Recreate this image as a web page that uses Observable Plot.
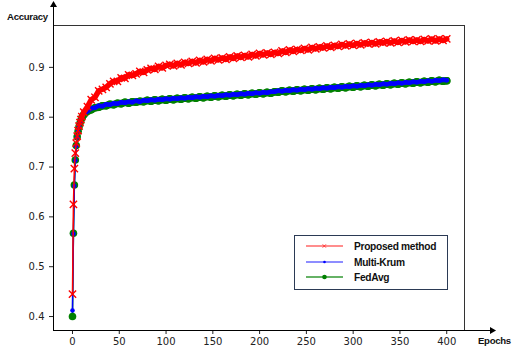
<!DOCTYPE html>
<html>
<head>
<meta charset="utf-8">
<script src="https://cdn.jsdelivr.net/npm/d3@7"></script>
<script src="https://cdn.jsdelivr.net/npm/@observablehq/plot@0.6"></script>
<style>
  html, body { margin: 0; padding: 0; background: #fff; }
  #chart svg { display: block; }
</style>
</head>
<body>
<div id="chart"></div>
<script>
const epochs = [0,1,2,3,4,5,6,7,8,9,10,
  12,16,20,24,28,32,36,40,44,48,52,56,60,64,68,72,76,80,84,88,92,96,100,104,108,112,116,120,124,128,
  132,136,140,144,148,152,156,160,164,168,172,176,180,184,188,192,196,200,204,208,212,216,220,224,228,232,
  236,240,244,248,252,256,260,264,268,272,276,280,284,288,292,296,300,304,308,312,316,320,324,328,332,336,
  340,344,348,352,356,360,364,368,372,376,380,384,388,392,396,400];

const proposed = [0.445,0.625,0.697,0.728,0.748,0.762,0.773,0.782,0.789,0.795,0.801,
  0.810,0.821,0.835,0.840,0.853,0.856,0.860,0.867,0.872,0.872,
  0.879,0.878,0.885,0.884,0.887,0.892,0.890,0.895,0.898,0.896,
  0.902,0.899,0.904,0.906,0.903,0.908,0.905,0.910,0.908,0.912,
  0.909,0.914,0.911,0.916,0.913,0.918,0.915,0.919,0.916,0.921,
  0.918,0.923,0.920,0.924,0.921,0.926,0.923,0.928,0.925,0.929,
  0.926,0.930,0.928,0.933,0.930,0.935,0.932,0.936,0.934,0.938,
  0.935,0.940,0.937,0.941,0.939,0.943,0.940,0.944,0.942,0.946,
  0.943,0.947,0.944,0.948,0.945,0.949,0.947,0.950,0.947,0.951,
  0.949,0.952,0.949,0.953,0.950,0.954,0.951,0.955,0.952,0.955,
  0.952,0.956,0.953,0.957,0.953,0.957,0.954,0.957];

const multiKrum = [0.412,0.566,0.662,0.713,0.742,0.760,0.773,0.782,0.790,0.796,0.801,
  0.808,0.812,0.818,0.819,0.823,0.822,0.826,0.825,0.828,0.827,
  0.830,0.829,0.831,0.830,0.833,0.831,0.834,0.833,0.835,0.834,
  0.836,0.835,0.837,0.836,0.838,0.837,0.839,0.838,0.840,0.839,
  0.841,0.840,0.842,0.841,0.843,0.842,0.844,0.843,0.845,0.844,
  0.846,0.845,0.847,0.846,0.848,0.847,0.849,0.848,0.850,0.849,
  0.851,0.851,0.853,0.852,0.854,0.853,0.855,0.854,0.856,0.855,
  0.857,0.856,0.858,0.857,0.859,0.858,0.860,0.859,0.861,0.860,
  0.862,0.861,0.863,0.862,0.864,0.863,0.865,0.864,0.866,0.865,
  0.867,0.866,0.868,0.867,0.869,0.868,0.870,0.869,0.871,0.870,
  0.872,0.871,0.873,0.872,0.874,0.873,0.875,0.874];

const fedAvg = [0.400,0.567,0.664,0.714,0.743,0.761,0.772,0.781,0.788,0.794,0.799,
  0.805,0.812,0.815,0.819,0.820,0.823,0.823,0.826,0.825,0.828,
  0.827,0.830,0.828,0.831,0.830,0.832,0.831,0.834,0.832,0.835,
  0.833,0.836,0.834,0.837,0.835,0.838,0.836,0.839,0.837,0.840,
  0.838,0.841,0.839,0.842,0.840,0.843,0.841,0.844,0.842,0.845,
  0.843,0.846,0.844,0.847,0.845,0.848,0.846,0.849,0.847,0.850,
  0.848,0.851,0.850,0.853,0.851,0.854,0.852,0.855,0.853,0.856,
  0.854,0.857,0.855,0.858,0.856,0.859,0.857,0.860,0.858,0.861,
  0.859,0.862,0.860,0.863,0.861,0.864,0.862,0.865,0.863,0.866,
  0.864,0.867,0.865,0.868,0.866,0.869,0.867,0.870,0.868,0.871,
  0.869,0.872,0.870,0.873,0.871,0.874,0.872,0.873];

const xTicks = [0,50,100,150,200,250,300,350,400];
const yTicks = [0.4,0.5,0.6,0.7,0.8,0.9];
const seriesNames = ["Proposed method","Multi-Krum","FedAvg"];

const toRows = vals => epochs.map((e, i) => ({x: e, y: vals[i]}));
const redRows = toRows(proposed);
const blueRows = toRows(multiKrum);
const greenRows = toRows(fedAvg);
const late = rows => rows.filter(d => d.x >= 10);

const xMin = -20.3, xMax = 419, xArrow = 450;
const yMin = 0.372, yMax = 0.984, yArrow = 1.028;

const chart = Plot.plot({
  width: 516,
  height: 352,
  marginLeft: 53,
  marginRight: 52,
  marginTop: 25,
  marginBottom: 22,
  style: {fontFamily: "DejaVu Sans", fontSize: "10px", color: "#222", background: "#fff"},
  x: {domain: [xMin, xMax]},
  y: {domain: [yMin, yMax]},
  marks: [
    Plot.axisY({ticks: yTicks, tickSize: 4, tickPadding: 5, tickFormat: d => d.toFixed(1), label: null}),
    Plot.axisX({ticks: xTicks, tickSize: 4, tickPadding: 3, label: null}),
    // frame (top + right spines)
    Plot.ruleY([yMax], {x1: xMin, x2: xMax, stroke: "#333", strokeWidth: 1}),
    Plot.ruleX([xMax], {y1: yMin, y2: yMax, stroke: "#333", strokeWidth: 1}),
    // axis lines with arrows
    Plot.ruleX([xMin], {y1: yMin, y2: yArrow, stroke: "#000", strokeWidth: 1}),
    Plot.ruleY([yMin], {x1: xMin, x2: xArrow, stroke: "#000", strokeWidth: 1}),
    Plot.dot([[xMin, yArrow]], {x: d => d[0], y: d => d[1], symbol: "triangle", r: 2.6, fill: "#000", dy: 1.5}),
    Plot.dot([[xArrow, yMin]], {x: d => d[0], y: d => d[1], symbol: "triangle", r: 2.6, fill: "#000", rotate: 90, dx: -1.5}),
    // FedAvg
    Plot.line(greenRows, {x: "x", y: "y", stroke: "#008000", strokeWidth: 1.5}),
    Plot.line(late(greenRows), {x: "x", y: "y", stroke: "#008000", strokeWidth: 7.5, strokeLinecap: "round"}),
    Plot.dot(greenRows, {x: "x", y: "y", r: 3.8, fill: "#008000"}),
    // Multi-Krum
    Plot.line(blueRows, {x: "x", y: "y", stroke: "#0000ff", strokeWidth: 1.5}),
    Plot.line(late(blueRows), {x: "x", y: "y", stroke: "#0000ff", strokeWidth: 4.5, strokeLinecap: "round"}),
    Plot.dot(blueRows, {x: "x", y: "y", r: 2.3, fill: "#0000ff"}),
    // Proposed
    Plot.line(redRows, {x: "x", y: "y", stroke: "#ff0000", strokeWidth: 1.5}),
    Plot.line(late(redRows), {x: "x", y: "y", stroke: "#ff0000", strokeWidth: 5.5}),
    Plot.dot(redRows, {x: "x", y: "y", symbol: "times", r: 3.4, stroke: "#ff0000", strokeWidth: 1.4})
  ]
});

document.getElementById("chart").appendChild(chart);

const svg = d3.select(chart);
const labelFont = "'Liberation Sans', Arial, sans-serif";
svg.append("text").attr("x", 7).attr("y", 20).attr("text-anchor", "start").attr("font-family", labelFont)
  .attr("font-size", 9.6).attr("font-weight", "bold").attr("letter-spacing", -0.3).attr("fill", "#111").text("Accuracy");
svg.append("text").attr("x", 478).attr("y", 344).attr("text-anchor", "start").attr("font-family", labelFont)
  .attr("font-size", 9.6).attr("font-weight", "bold").attr("letter-spacing", -0.3).attr("fill", "#111").text("Epochs");

// legend
const lg = svg.append("g");
lg.append("rect").attr("x", 294.5).attr("y", 235.5).attr("width", 153).attr("height", 54)
  .attr("fill", "#fff").attr("stroke", "#2b3a55").attr("stroke-width", 1);
const legendColors = ["#ff0000", "#0000ff", "#008000"];
const legendY = [246, 262, 277];
seriesNames.forEach((name, i) => {
  const y = legendY[i];
  lg.append("line").attr("x1", 306).attr("x2", 343).attr("y1", y).attr("y2", y)
    .attr("stroke", legendColors[i]).attr("stroke-opacity", i === 2 ? 0.8 : 0.6).attr("stroke-width", 1.5);
  if (i === 0) {
    lg.append("path").attr("d", `M${322.5},${y-1.8}L${326.1},${y+1.8}M${322.5},${y+1.8}L${326.1},${y-1.8}`)
      .attr("stroke", "#ff0000").attr("stroke-opacity", 0.6).attr("stroke-width", 1);
  } else {
    lg.append("circle").attr("cx", 324.5).attr("cy", y).attr("r", i === 1 ? 1.3 : 2.3).attr("fill", legendColors[i]);
  }
  lg.append("text").attr("x", 354).attr("y", y + 3.5).attr("text-anchor", "start").attr("font-family", labelFont)
    .attr("font-size", 10.2).attr("font-weight", "bold").attr("letter-spacing", -0.3).attr("fill", "#111").text(name);
});
</script>
</body>
</html>
